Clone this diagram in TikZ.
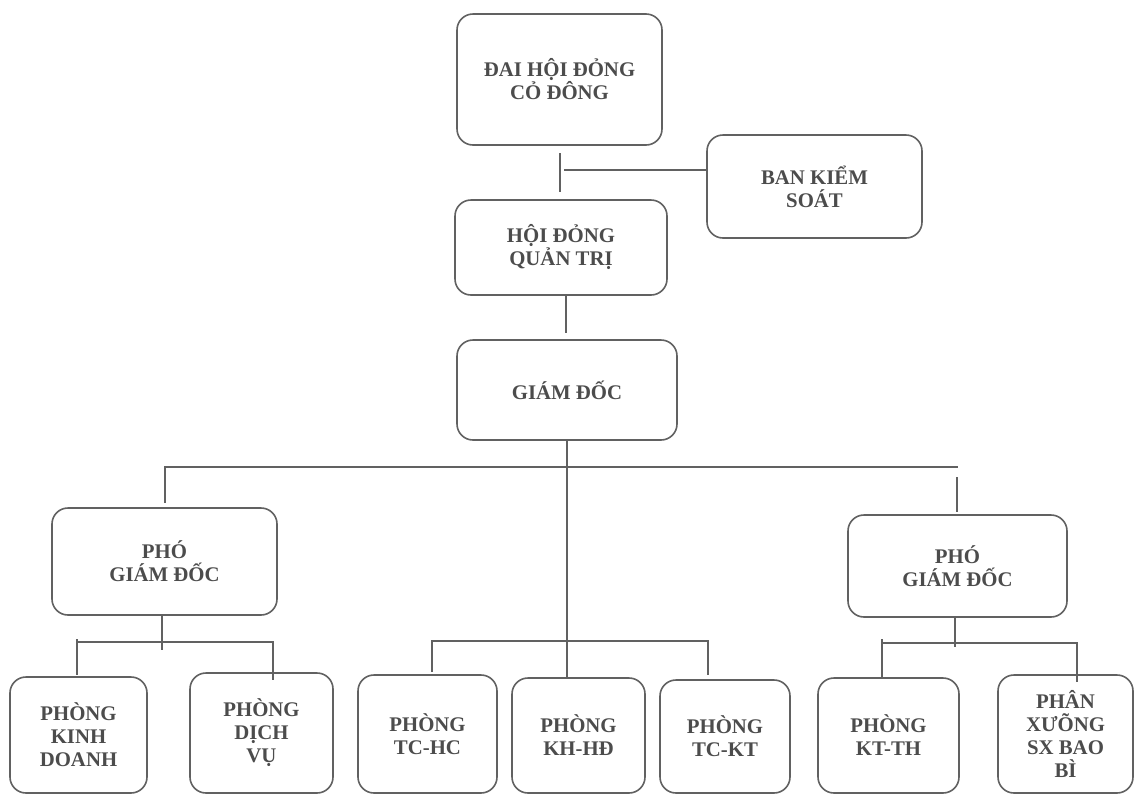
\documentclass[tikz,border=0pt]{standalone}
\usepackage{fontspec}
\setmainfont{Liberation Serif}
\begin{document}
\begin{tikzpicture}[x=1pt,y=-1pt,
  box/.style={draw=black!62, line width=1.6pt, rounded corners=16pt, inner sep=0pt,
    align=center, text=black!70, font=\bfseries\fontsize{20.8}{23}\selectfont},
  conn/.style={draw=black!62, line width=1.6pt}]
\useasboundingbox (0,0) rectangle (1135,796);
% boxes
\node[box, minimum width=205pt, minimum height=131pt] (dh) at (559.5,79.5) {ĐAI HỘI ĐỎNG\\CỎ ĐÔNG};
\node[box, minimum width=215pt, minimum height=103pt] (bks) at (814.5,186.5) {BAN KIỂM\\SOÁT};
\node[box, minimum width=212pt, minimum height=95pt] (hd) at (561,247.5) {HỘI ĐỎNG\\QUẢN TRỊ};
\node[box, minimum width=220pt, minimum height=100pt] (gd) at (567,390) {GIÁM ĐỐC};
\node[box, minimum width=225pt, minimum height=107pt] (pl) at (164.5,561.5) {PHÓ\\GIÁM ĐỐC};
\node[box, minimum width=219pt, minimum height=102pt] (pr) at (957.5,566) {PHÓ\\GIÁM ĐỐC};
\node[box, minimum width=137pt, minimum height=116pt] (kd) at (78.5,735) {PHÒNG\\KINH\\DOANH};
\node[box, minimum width=143pt, minimum height=120pt] (dv) at (261.5,733) {PHÒNG\\DỊCH\\VỤ};
\node[box, minimum width=139pt, minimum height=118pt] (tchc) at (427.5,734) {PHÒNG\\TC-HC};
\node[box, minimum width=133pt, minimum height=115pt] (khhd) at (578.5,735.5) {PHÒNG\\KH-HĐ};
\node[box, minimum width=130pt, minimum height=113pt] (tckt) at (725,736.5) {PHÒNG\\TC-KT};
\node[box, minimum width=141pt, minimum height=115pt] (ktth) at (888.5,735.5) {PHÒNG\\KT-TH};
\node[box, minimum width=135pt, minimum height=118pt] (px) at (1065.5,734) {PHÂN\\XƯÕNG\\SX BAO\\BÌ};
% junction coordinates
\coordinate (a1) at (560,153);
\coordinate (a2) at (560,192);
\coordinate (a3) at (564,170);
\coordinate (b1) at (566,295);
\coordinate (b2) at (566,333);
\coordinate (c1) at (567,440);
\coordinate (c2) at (567,678);
\coordinate (h1) at (165,467);
\coordinate (h2) at (958,467);
\coordinate (h3) at (165,503);
\coordinate (h4) at (957,477);
\coordinate (h5) at (957,512);
\coordinate (l1) at (162,615);
\coordinate (l2) at (162,650);
\coordinate (l3) at (77,642);
\coordinate (l4) at (273,642);
\coordinate (l5) at (77,639);
\coordinate (l6) at (77,675);
\coordinate (l7) at (273,680);
\coordinate (m1) at (432,641);
\coordinate (m2) at (708,641);
\coordinate (m3) at (432,672);
\coordinate (m4) at (708,675);
\coordinate (r1) at (955,617);
\coordinate (r2) at (955,647);
\coordinate (r3) at (882,643);
\coordinate (r4) at (1077,643);
\coordinate (r5) at (882,639);
\coordinate (r6) at (882,678);
\coordinate (r7) at (1077,682);
% connectors
\draw[conn] (a1) -- (a2);
\draw[conn] (a3) -- (a3 -| bks.west);
\draw[conn] (b1) -- (b2);
\draw[conn] (c1) -- (c2);
\draw[conn] (h3) -- (h1) -- (h2);
\draw[conn] (h4) -- (h5);
\draw[conn] (l1) -- (l2);
\draw[conn] (l3) -- (l4) -- (l7);
\draw[conn] (l5) -- (l6);
\draw[conn] (m3) -- (m1) -- (m2) -- (m4);
\draw[conn] (r1) -- (r2);
\draw[conn] (r3) -- (r4) -- (r7);
\draw[conn] (r5) -- (r6);
\end{tikzpicture}
\end{document}
